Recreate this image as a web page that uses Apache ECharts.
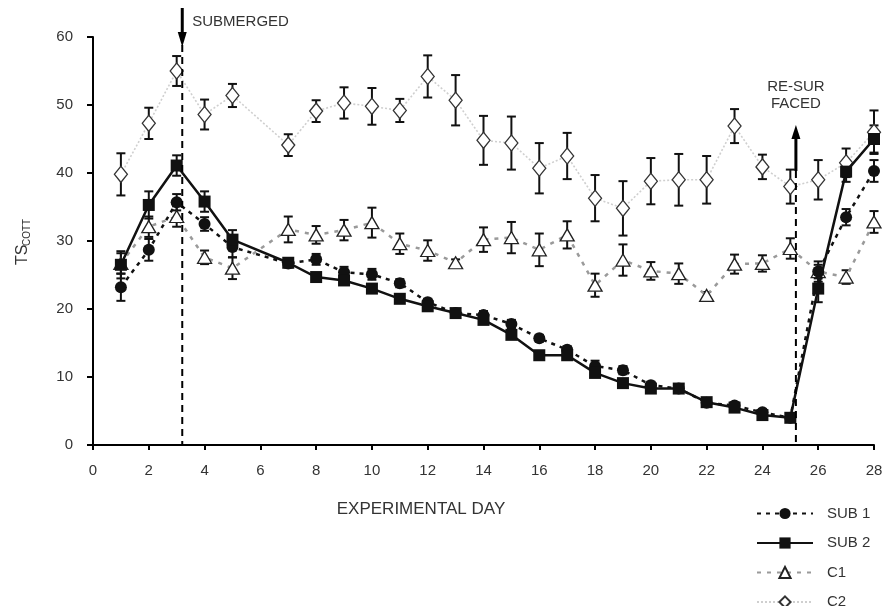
<!DOCTYPE html>
<html>
<head>
<meta charset="utf-8">
<script src="https://cdn.jsdelivr.net/npm/echarts@6/dist/echarts.min.js"></script>
<style>
  html, body { margin: 0; padding: 0; background: #ffffff; }
  #chart { width: 887px; height: 606px; }
</style>
</head>
<body>
<div id="chart"></div>
<script>
// ---- data ----
const days = [1, 2, 3, 4, 5, 7, 8, 9, 10, 11, 12, 13, 14, 15, 16, 17, 18, 19, 20, 21, 22, 23, 24, 25, 26, 27, 28];
const sub1 = [23.2, 28.7, 35.7, 32.5, 29.1, 26.7, 27.3, 25.4, 25.1, 23.8, 21.0, 19.4, 19.1, 17.8, 15.7, 14.0, 11.6, 11.0, 8.8, 8.3, 6.2, 5.8, 4.8, 4.0, 25.5, 33.5, 40.3];
const sub2 = [26.5, 35.3, 41.1, 35.8, 30.2, 26.8, 24.7, 24.2, 23.0, 21.5, 20.4, 19.4, 18.4, 16.2, 13.2, 13.2, 10.6, 9.1, 8.3, 8.3, 6.3, 5.5, 4.4, 4.0, 23.0, 40.2, 45.0];
const c1 = [26.7, 32.1, 33.6, 27.6, 26.0, 31.7, 30.9, 31.6, 32.7, 29.6, 28.6, 26.8, 30.2, 30.5, 28.7, 30.9, 23.5, 27.2, 25.6, 25.2, 22.0, 26.6, 26.7, 28.9, 25.5, 24.7, 32.8];
const c2 = [39.8, 47.3, 55.0, 48.6, 51.4, 44.1, 49.1, 50.3, 49.8, 49.2, 54.2, 50.7, 44.8, 44.4, 40.7, 42.5, 36.3, 34.8, 38.8, 39.0, 39.0, 46.9, 40.9, 38.0, 39.0, 41.5, 46.0];
const sub1Err = [2.0, 1.6, 1.2, 1.0, 1.5, 0.6, 0.8, 0.8, 0.8, 0.6, 0.5, 0.5, 0.6, 0.6, 0.5, 0.5, 0.8, 0.6, 0.5, 0.5, 0.4, 0.4, 0.4, 0.4, 1.0, 1.2, 1.6];
const sub2Err = [2.0, 2.0, 1.5, 1.5, 1.4, 0.5, 0.5, 0.5, 0.5, 0.5, 0.5, 0.5, 0.5, 0.5, 0.5, 0.5, 0.5, 0.5, 0.5, 0.5, 0.4, 0.4, 0.4, 0.4, 2.0, 1.5, 2.0];
const c1Err = [1.5, 1.5, 1.5, 1.0, 1.6, 1.9, 1.3, 1.5, 2.2, 1.5, 1.5, 0.5, 1.8, 2.3, 2.4, 2.0, 1.7, 2.3, 1.3, 1.5, 0.5, 1.4, 1.2, 1.5, 1.5, 1.0, 1.6];
const c2Err = [3.1, 2.3, 2.2, 2.2, 1.7, 1.6, 1.6, 2.3, 2.7, 1.7, 3.1, 3.7, 3.6, 3.9, 3.7, 3.4, 3.4, 4.0, 3.4, 3.8, 3.5, 2.5, 1.8, 2.5, 2.9, 2.1, 3.2];
const seriesNames = ['SUB 1', 'SUB 2', 'C1', 'C2'];
const xTicks = { min: 0, max: 28, interval: 2 };
const yTicks = { min: 0, max: 60, interval: 10 };
const submergedDay = 3.2;
const resurfacedDay = 25.2;
const xTitle = 'EXPERIMENTAL DAY';
const yTitleMain = 'TS';
const yTitleSub = 'COTT';
const submergedLabel = 'SUBMERGED';
const resurfacedLabel = 'RE-SUR\nFACED';

// ---- build ----
const FONT = "'Liberation Sans', Arial, sans-serif";
const TEXT = '#333333';
const pairs = (vals) => days.map((d, i) => [d, vals[i]]);
const errPairs = (vals, errs) => days.map((d, i) => [d, vals[i] - errs[i], vals[i] + errs[i]]);

function errorSeries(vals, errs, z) {
  return {
    type: 'custom',
    z: z,
    silent: true,
    data: errPairs(vals, errs),
    renderItem: function (params, api) {
      const hi = api.coord([api.value(0), api.value(2)]);
      const lo = api.coord([api.value(0), api.value(1)]);
      const cap = 4.5;
      const st = { stroke: '#111', lineWidth: 2 };
      return {
        type: 'group',
        children: [
          { type: 'line', shape: { x1: hi[0], y1: hi[1], x2: lo[0], y2: lo[1] }, style: st },
          { type: 'line', shape: { x1: hi[0] - cap, y1: hi[1], x2: hi[0] + cap, y2: hi[1] }, style: st },
          { type: 'line', shape: { x1: lo[0] - cap, y1: lo[1], x2: lo[0] + cap, y2: lo[1] }, style: st }
        ]
      };
    }
  };
}

const chart = echarts.init(document.getElementById('chart'), null, { renderer: 'canvas' });

const option = {
  animation: false,
  backgroundColor: '#ffffff',
  textStyle: { fontFamily: FONT },
  grid: { left: 93, right: 13, top: 37, bottom: 161, containLabel: false },
  legend: {
    data: seriesNames,
    orient: 'vertical',
    left: 756,
    top: 506,
    height: 160,
    itemWidth: 56,
    itemHeight: 14,
    itemGap: 14.5,
    padding: 0,
    textStyle: { fontSize: 15, lineHeight: 14, color: TEXT, fontFamily: FONT, padding: [0, 0, 0, 9] }
  },
  xAxis: {
    type: 'value',
    min: xTicks.min, max: xTicks.max, interval: xTicks.interval,
    axisLine: { lineStyle: { color: '#000', width: 2 } },
    axisTick: { show: true, length: 5, lineStyle: { color: '#000', width: 2 } },
    axisLabel: { fontSize: 15, color: TEXT, margin: 18, fontFamily: FONT },
    splitLine: { show: false }
  },
  yAxis: {
    type: 'value',
    min: yTicks.min, max: yTicks.max, interval: yTicks.interval,
    axisLine: { show: true, lineStyle: { color: '#000', width: 2 } },
    axisTick: { show: true, length: 6, lineStyle: { color: '#000', width: 2 } },
    axisLabel: { fontSize: 15, color: TEXT, margin: 20, fontFamily: FONT },
    splitLine: { show: false }
  },
  series: [
    errorSeries(c2, c2Err, 1),
    errorSeries(c1, c1Err, 1),
    errorSeries(sub1, sub1Err, 1),
    errorSeries(sub2, sub2Err, 1),
    {
      name: 'C2', type: 'line', z: 3, data: pairs(c2),
      symbol: 'diamond', symbolSize: [13, 16],
      lineStyle: { color: '#cfcfcf', width: 1.6, type: [2, 2] },
      itemStyle: { color: '#ffffff', borderColor: '#333', borderWidth: 1.3 }
    },
    {
      name: 'C1', type: 'line', z: 4, data: pairs(c1),
      symbol: 'triangle', symbolSize: [14, 12],
      lineStyle: { color: '#9a9a9a', width: 2.5, type: [4, 6] },
      itemStyle: { color: '#ffffff', borderColor: '#222', borderWidth: 1.3 }
    },
    {
      name: 'SUB 1', type: 'line', z: 5, data: pairs(sub1),
      symbol: 'circle', symbolSize: 12,
      lineStyle: { color: '#111', width: 2.5, type: [4, 5] },
      itemStyle: { color: '#111', borderColor: '#111', borderWidth: 0 }
    },
    {
      name: 'SUB 2', type: 'line', z: 6, data: pairs(sub2),
      symbol: 'rect', symbolSize: 12,
      lineStyle: { color: '#111', width: 2.5, type: 'solid' },
      itemStyle: { color: '#111', borderColor: '#111', borderWidth: 0 }
    }
  ]
};
chart.setOption(option);

// ---- annotations (positions derived from the chart's own scales) ----
const xp1 = chart.convertToPixel({ xAxisIndex: 0 }, submergedDay);
const xp2 = chart.convertToPixel({ xAxisIndex: 0 }, resurfacedDay);
const y0 = chart.convertToPixel({ yAxisIndex: 0 }, yTicks.min);
const yMax = chart.convertToPixel({ yAxisIndex: 0 }, yTicks.max);
const axisX = chart.convertToPixel({ xAxisIndex: 0 }, xTicks.min);
const gridMidY = (y0 + yMax) / 2;

const graphics = [
  // submerged arrow + dashed line
  { type: 'line', z: 10, shape: { x1: xp1, y1: yMax - 29, x2: xp1, y2: yMax - 2 }, style: { stroke: '#000', lineWidth: 3 } },
  { type: 'polygon', z: 10, shape: { points: [[xp1 - 4.5, yMax - 5], [xp1 + 4.5, yMax - 5], [xp1, yMax + 10]] }, style: { fill: '#000' } },
  { type: 'line', z: 10, shape: { x1: xp1, y1: yMax + 8, x2: xp1, y2: y0 }, style: { stroke: '#000', lineWidth: 2, lineDash: [7, 5] } },
  { type: 'text', z: 10, style: { text: submergedLabel, x: xp1 + 10, y: yMax - 15, font: '15px ' + FONT, fill: TEXT, textVerticalAlign: 'middle', textAlign: 'left' } },
  // re-surfaced arrow + dashed line
  { type: 'polygon', z: 10, shape: { points: [[xp2 - 4.5, yMax + 102], [xp2 + 4.5, yMax + 102], [xp2, yMax + 88]] }, style: { fill: '#000' } },
  { type: 'line', z: 10, shape: { x1: xp2, y1: yMax + 100, x2: xp2, y2: yMax + 134 }, style: { stroke: '#000', lineWidth: 3 } },
  { type: 'line', z: 10, shape: { x1: xp2, y1: yMax + 134, x2: xp2, y2: y0 }, style: { stroke: '#000', lineWidth: 2, lineDash: [7, 5] } },
  { type: 'text', z: 10, style: { text: resurfacedLabel, x: xp2, y: yMax + 41, font: '15px ' + FONT, fill: TEXT, textAlign: 'center', textVerticalAlign: 'top', lineHeight: 17 } },
  // axis titles
  { type: 'text', z: 10, style: { text: xTitle, x: 421, y: y0 + 64, font: '17px ' + FONT, fill: TEXT, textAlign: 'center', textVerticalAlign: 'middle' } },
  {
    type: 'group', x: axisX - 70, y: gridMidY + 1, rotation: Math.PI / 2,
    children: [
      { type: 'text', style: { text: yTitleMain, x: -23, y: 0, font: '16px ' + FONT, fill: TEXT, textAlign: 'left', textVerticalAlign: 'middle' } },
      { type: 'text', style: { text: yTitleSub, x: -4, y: 4, font: '10px ' + FONT, fill: TEXT, textAlign: 'left', textVerticalAlign: 'middle' } }
    ]
  }
];
chart.setOption({ graphic: graphics });
</script>
</body>
</html>
